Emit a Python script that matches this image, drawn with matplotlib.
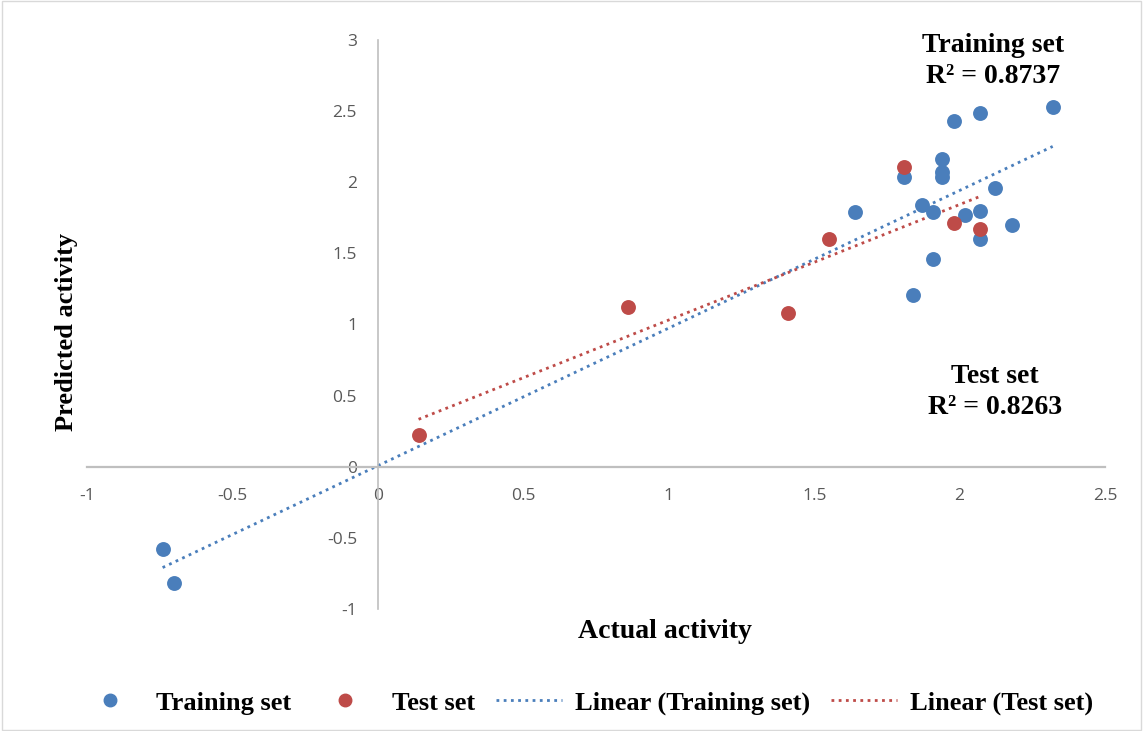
import numpy as np
import matplotlib.pyplot as plt
from matplotlib.lines import Line2D
from matplotlib.patches import Rectangle

# ====== DATA ======
train_x = [2.32, 2.07, 1.98, 1.94, 1.94, 1.94, 1.81, 2.12, 1.64, 1.87,
           1.91, 2.02, 2.07, 2.18, 2.07, 1.91, 1.84, -0.74, -0.70]
train_y = [2.53, 2.49, 2.43, 2.16, 2.07, 2.04, 2.04, 1.96, 1.79, 1.84,
           1.79, 1.77, 1.80, 1.70, 1.60, 1.46, 1.21, -0.58, -0.82]

test_x = [1.81, 1.98, 2.07, 1.55, 0.86, 1.41, 0.14]
test_y = [2.11, 1.71, 1.67, 1.60, 1.12, 1.08, 0.22]

x_ticks = [-1, -0.5, 0, 0.5, 1, 1.5, 2, 2.5]
y_ticks = [-1, -0.5, 0, 0.5, 1, 1.5, 2, 2.5, 3]

blue = "#4a7ebb"
red = "#be4b48"
serif = "Liberation Serif"
dots = (0, (1, 1.6))

# ====== PLOTTING ======
fig = plt.figure(figsize=(11.43, 7.31), dpi=100)
ax = fig.add_axes([0.0761, 0.1669, 0.8907, 0.7784])

ax.scatter(train_x, train_y, s=115, color=blue, zorder=3, linewidths=0)
ax.scatter(test_x, test_y, s=115, color=red, zorder=3, linewidths=0)

# linear trendlines
for xs, ys, c in [(train_x, train_y, blue), (test_x, test_y, red)]:
    k, b = np.polyfit(xs, ys, 1)
    xx = np.array([min(xs), max(xs)])
    ax.plot(xx, k * xx + b, color=c, lw=2, linestyle=dots, zorder=2)

ax.set_xlim(-1, 2.5)
ax.set_ylim(-1, 3)

for s in ["top", "right"]:
    ax.spines[s].set_visible(False)
ax.spines["left"].set_position(("data", 0))
ax.spines["bottom"].set_position(("data", 0))
ax.spines["left"].set_color("#bfbfbf")
ax.spines["bottom"].set_color("#bfbfbf")
ax.spines["left"].set_linewidth(1.2)
ax.spines["bottom"].set_linewidth(1.6)

ax.set_xticks(x_ticks)
ax.set_yticks(y_ticks)
ax.set_xticklabels([f"{v:g}" for v in x_ticks])
ax.set_yticklabels([f"{v:g}" for v in y_ticks])
ax.tick_params(length=0, labelsize=12.5, labelcolor="#595959", pad=15)
for lbl in ax.get_xticklabels() + ax.get_yticklabels():
    lbl.set_fontfamily("Open Sans")

# axis titles
fig.text(665 / 1143, 1 - 632 / 731, "Actual activity", family=serif,
         weight="bold", fontsize=20, ha="center", va="center")
fig.text(66 / 1143, 1 - 332 / 731, "Predicted activity", family=serif,
         weight="bold", fontsize=19, ha="center", va="center", rotation=90)

# R² labels
fig.text(993 / 1143, 1 - 61 / 731, "Training set\nR² = 0.8737", family=serif,
         weight="bold", fontsize=20, ha="center", va="center", linespacing=1.3)
fig.text(995 / 1143, 1 - 392 / 731, "Test set\nR² = 0.8263", family=serif,
         weight="bold", fontsize=20, ha="center", va="center", linespacing=1.3)

# legend
handles = [
    Line2D([], [], marker="o", color=blue, linestyle="none", markersize=9),
    Line2D([], [], marker="o", color=red, linestyle="none", markersize=9),
    Line2D([], [], color=blue, lw=2, linestyle=dots),
    Line2D([], [], color=red, lw=2, linestyle=dots),
]
labels = ["Training set", "Test set", "Linear (Training set)", "Linear (Test set)"]
fig.legend(handles, labels, loc="center", bbox_to_anchor=(0.512, 1 - 703 / 731),
           ncol=4, frameon=False, handlelength=2.5, handletextpad=0.5,
           columnspacing=0.8,
           prop={"family": serif, "weight": "bold", "size": 19})

# chart border
fig.patches.append(Rectangle((0.002, 0.002), 0.996, 0.996, transform=fig.transFigure,
                             fill=False, edgecolor="#d9d9d9", lw=1))

plt.savefig("out.png", dpi=100)
